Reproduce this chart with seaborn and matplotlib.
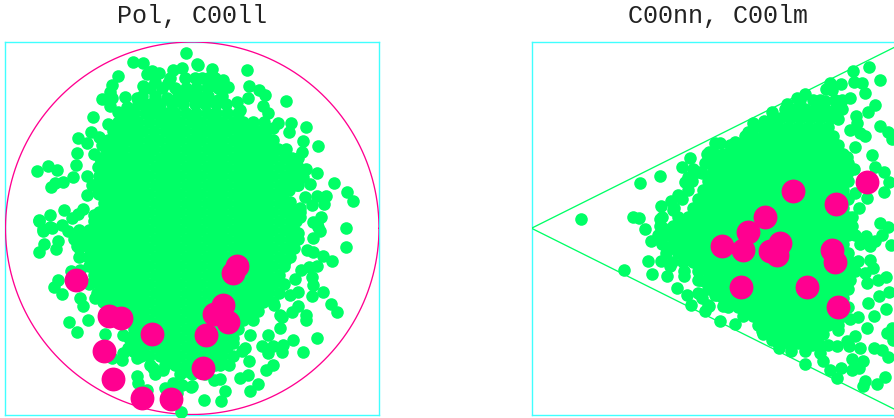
import numpy as np
import pandas as pd
import matplotlib
matplotlib.use("Agg")
import matplotlib.pyplot as plt
import seaborn as sns

TITLES = ["Pol, C00ll", "C00nn, C00lm"]

pol_hits = [(76,280),(109,316),(121,318),(152,334),(104,351),(113,379),(142,398),(171,399),
            (237,266),(233,273),(223,305),(214,314),(228,322),(206,335),(203,368)]

pol_outer = [(186,53),(133,62),(143,63),(118,76),(197,64),(147,74),(152,71),(159,73),(173,70),(182,68),
    (112,85),(143,86),(155,82),(168,83),(110,92),(102,99),(112,98),(110,106),(125,97),(137,98),(93,117),
    (108,124),(118,112),(127,107),(148,105),(157,103),(167,98),(91,132),(78,138),(87,143),(99,137),(102,145),
    (77,153),(94,154),(76,165),(48,166),(57,170),(37,171),(73,177),(63,182),(55,183),(51,187),(87,176),
    (87,195),(98,193),(92,185),(64,210),(50,215),(39,220),(83,209),(78,214),(72,218),(94,215),(62,225),
    (43,229),(52,228),(39,221),(50,227),(43,231),(58,241),(68,231),(44,244),(39,252),(56,249),(77,246),
    (79,257),(71,271),(80,270),(58,280),(54,287),(62,294),(80,298),(83,306),(95,298),(69,322),(88,320),
    (77,332),(105,334),(135,328),(123,335),(128,348),(123,353),(122,360),(112,358),(137,358),(137,376),
    (138,383),(153,368),(163,370),(172,361),(173,383),(165,388),(182,385),(191,387),(186,371),(181,412),
    (147,390),(177,393),(133,351),(198,65),(212,69),(247,70),(223,80),(228,87),(249,86),(259,90),(265,95),
    (286,101),(248,98),(263,106),(268,113),(264,122),(278,123),(291,123),(306,127),(273,128),(289,132),
    (303,141),(318,146),(302,152),(295,160),(306,169),(317,173),(297,178),(303,177),(310,184),(297,185),
    (334,183),(347,192),(353,201),(326,196),(317,196),(305,197),(324,204),(312,205),(289,190),(290,202),
    (300,208),(300,217),(321,217),(313,222),(318,227),(346,228),(230,127),(213,85),(202,78),(237,102),
    (218,100),(240,110),(212,128),(346,247),(313,238),(320,231),(317,223),(298,233),(307,250),(313,252),
    (323,256),(332,261),(317,266),(309,267),(301,270),(312,277),(313,285),(295,279),(274,282),(323,292),
    (312,296),(298,292),(290,295),(331,304),(337,312),(298,306),(292,312),(306,315),(306,320),(282,317),
    (317,338),(293,340),(303,352),(283,345),(282,352),(262,346),(268,353),(273,346),(273,365),(266,370),
    (258,384),(250,391),(248,375),(240,378),(249,361),(242,351),(229,365),(220,379),(214,380),(225,391),
    (221,401),(204,400),(192,386),(268,335),(280,328),(280,315),(274,305),(267,291),(285,261),(250,335),
    (255,288),(245,348),(233,343),(220,365)]

pol_core = [
    (78,[170,185,195,208,215]),
    (88,[150,162,175,186,196,207,218]),
    (96,[142,155,178,188,198,208,222]),
    (104,[138,150,160,172,183,195,205,216,226]),
    (113,[125,134,145,155,165,175,186,196,207,216,227,238]),
    (122,[118,128,138,149,160,170,180,191,201,212,222,233,243,253]),
    (131,[113,123,133,143,154,165,175,185,196,206,217,227,238,248,258,266]),
    (140,[108,118,128,138,149,159,170,180,191,201,212,222,233,243,253,263,273]),
    (149,[106,113,123,134,144,154,165,175,186,196,207,217,227,238,248,258,268,278,286]),
    (158,[100,109,119,129,139,149,160,170,180,191,201,212,222,233,243,253,263,273,284,292,298]),
    (167,[98,104,114,124,134,144,155,165,175,186,196,207,217,227,238,248,258,268,279,290,298]),
    (176,[99,109,119,129,139,149,160,170,180,191,201,212,222,233,243,253,263,273,284,294,300]),
    (185,[94,104,114,124,134,144,155,165,175,186,196,207,217,227,238,248,258,268,279,288,298]),
    (194,[99,109,119,129,139,149,160,170,180,191,201,212,222,233,243,253,263,273,283]),
    (203,[104,114,124,134,144,155,165,175,186,196,207,217,227,238,248,258,268,279,288]),
    (212,[99,109,119,129,139,149,160,170,180,191,201,212,222,233,243,253,263,273,284,292,300]),
    (221,[94,104,114,124,134,144,155,165,175,186,196,207,217,227,238,248,258,268,279,290,296]),
    (230,[79,89,99,109,119,129,139,149,160,170,180,191,201,212,222,233,243,253,263,273,284,294]),
    (239,[74,84,94,104,114,124,134,144,155,165,175,186,196,207,217,227,238,248,258,268,279,290,298]),
    (248,[79,89,99,109,119,129,139,149,160,170,180,191,201,212,222,233,243,253,263,273,284,294]),
    (257,[88,94,104,114,124,134,144,155,165,175,186,196,207,217,227,238,248,258,268,279,290]),
    (266,[89,99,109,119,129,139,149,160,170,180,191,201,212,222,233,243,253,263,273,284]),
    (275,[94,104,114,124,134,144,155,165,175,186,196,207,217,227,238,248,258,268,279]),
    (284,[89,99,109,119,129,139,149,160,170,180,191,201,212,222,233,243,253,263,273,284]),
    (293,[97,104,114,124,134,144,155,165,175,186,196,207,217,227,238,248,258,268,279]),
    (302,[103,109,119,129,139,149,160,170,180,191,201,212,222,233,243,253,263,273]),
    (311,[114,124,134,144,155,165,175,186,196,207,217,227,238,248,258]),
    (320,[129,139,149,160,170,180,191,201,212,222,233,243,253]),
    (329,[134,144,155,165,175,186,196,207,217,227,238]),
    (338,[129,139,149,160,170,180,191,201,212,222,233]),
    (347,[134,144,155,165,175,186,196,207,217,227]),
    (356,[141,149,160,170,180,191,201,212,222,233]),
    (365,[150,165,175,186,196,215]),
    (374,[155,180,192,205]),
]

nn_hits = [(722,246),(743,250),(748,232),(765,217),(793,191),(836,204),(867,182),(780,243),
           (770,251),(777,255),(832,250),(835,262),(741,287),(807,287),(838,307)]

nn_outer = [(581,219),(640,183),(660,176),(633,217),(639,218),(645,229),(661,206),(660,219),(671,201),(678,195),
    (682,167),(690,158),(707,154),(708,163),(693,169),(685,182),(688,177),(702,173),(673,210),(715,143),
    (651,241),(663,228),(661,261),(648,261),(624,270),(652,274),(667,276),(670,266),(684,276),(677,288),
    (687,295),(691,305),(698,293),(702,298),(705,311),(708,305),(704,281),(698,280),(715,295),(660,240),
    (672,248),(869,67),(880,80),(853,71),(862,83),(854,82),(830,83),(826,89),(841,84),(865,93),(805,94),
    (797,98),(813,100),(787,104),(772,112),(825,101),(875,105),(868,112),(856,116),(857,123),(850,130),
    (880,126),(888,132),(892,139),(865,136),(860,133),(838,119),(753,123),(764,121),(748,132),(720,143),
    (735,142),(709,152),(855,147),(872,155),(854,169),(875,167),(884,172),(889,182),(884,192),(855,193),
    (867,198),(859,208),(880,223),(888,227),(852,217),(847,157),(850,98),(832,90),(882,235),(875,241),
    (866,236),(860,244),(870,246),(891,245),(870,260),(873,268),(858,261),(865,273),(867,283),(878,280),
    (886,277),(889,292),(879,296),(868,303),(886,309),(874,316),(858,317),(850,319),(867,328),(855,336),
    (847,341),(887,333),(892,328),(893,340),(860,348),(874,348),(882,350),(888,357),(863,361),(849,346),
    (852,359),(837,346),(828,345),(852,370),(859,368),(837,378),(830,370),(841,368),(823,361),(805,364),
    (791,351),(779,348),(820,353),(865,381),(863,386),(885,377),(877,384),(720,321),(735,324),(723,306),
    (709,306),(717,295),(707,281),(805,351),(812,345),(838,330),(762,331),(772,340)]

nn_core = [
    (100,[800,820,835,842]),
    (109,[785,795,805,815,825,835,842]),
    (118,[772,780,790,800,810,820,830]),
    (127,[755,762,768,778,788,798,808,818,828]),
    (136,[745,753,763,773,783,793,803,813,823,833]),
    (145,[730,738,748,758,768,778,788,798,808,818,828,838]),
    (154,[715,723,733,743,753,763,773,783,793,803,813,823,833,843]),
    (163,[705,718,728,738,748,758,768,778,788,798,808,818,828,838,848]),
    (172,[698,713,723,733,743,753,763,773,783,793,803,813,823,833,843,848]),
    (181,[692,708,718,728,738,748,758,768,778,788,798,808,818,828,838,848]),
    (190,[688,703,713,723,733,743,753,763,773,783,793,803,813,823,833,843]),
    (199,[682,698,708,718,728,738,748,758,768,778,788,798,808,818,828,838,848]),
    (208,[674,693,703,713,723,733,743,753,763,773,783,793,803,813,823,833,843]),
    (217,[662,678,688,698,708,718,728,738,748,758,768,778,788,798,808,818,828,838,848]),
    (226,[660,673,683,693,703,713,723,733,743,753,763,773,783,793,803,813,823,833,843,852]),
    (235,[658,668,678,688,698,708,718,728,738,748,758,768,778,788,798,808,818,828,838,848,855]),
    (244,[662,673,683,693,703,713,723,733,743,753,763,773,783,793,803,813,823,833,843]),
    (253,[666,678,688,698,708,718,728,738,748,758,768,778,788,798,808,818,828,838,848]),
    (262,[672,683,693,703,713,723,733,743,753,763,773,783,793,803,813,823,833,843,850]),
    (271,[684,698,708,718,728,738,748,758,768,778,788,798,808,818,828,838,848,855]),
    (280,[700,713,723,733,743,753,763,773,783,793,803,813,823,833,843,850]),
    (289,[708,718,728,738,748,758,768,778,788,798,808,818,828,838,848]),
    (298,[723,733,743,753,763,773,783,793,803,813,823,833,843]),
    (307,[728,738,748,758,768,778,788,798,808,818,828,838,848]),
    (316,[743,753,763,773,783,793,803,813,823,833,843]),
    (325,[758,768,778,788,798,808,818,828,838]),
    (334,[763,773,783,793,803,813,823]),
    (343,[778,788,798,808,818]),
]

GREEN = "#00ff66"
PINK = "#ff0090"
CYAN = "#40ffff"
AXES_PX = [(5.5, 379.0), (531.5, 905.0)]
TOP_PX, BOTTOM_PX = 42.0, 414.5
W, H = 895, 418


def to_frame(outer, core):
    rows = [(x, y) for y, xs in core for x in xs]
    return pd.DataFrame(rows + outer, columns=["x", "y"])


def draw_points(ax, green, hits):
    sns.scatterplot(data=green, x="x", y="y", color=GREEN, s=82, linewidth=0, ax=ax,
                    clip_on=False, zorder=3)
    sns.scatterplot(data=pd.DataFrame(hits, columns=["x", "y"]), x="x", y="y", color=PINK,
                    s=295, linewidth=0, ax=ax, clip_on=False, zorder=4)


sns.set_theme(style="white")
plt.rcParams["font.family"] = ["Liberation Mono", "DejaVu Sans Mono"]

fig = plt.figure(figsize=(W / 100, H / 100), dpi=100)
axes = []
for left, right in AXES_PX:
    ax = fig.add_axes([left / W, 1 - BOTTOM_PX / H, (right - left) / W, (BOTTOM_PX - TOP_PX) / H])
    ax.set_xlim(left, right)
    ax.set_ylim(BOTTOM_PX, TOP_PX)
    axes.append(ax)

# unit circle of the polar panel
theta = np.linspace(0, 2 * np.pi, 400)
cx, cy = sum(AXES_PX[0]) / 2, (TOP_PX + BOTTOM_PX) / 2
rx, ry = (AXES_PX[0][1] - AXES_PX[0][0]) / 2, (BOTTOM_PX - TOP_PX) / 2
axes[0].plot(cx + rx * np.cos(theta), cy + ry * np.sin(theta), color=PINK, lw=0.95, zorder=2)

# wedge of the second panel
l, r = AXES_PX[1]
axes[1].plot([r, l, r], [TOP_PX, cy, BOTTOM_PX], color=GREEN, lw=0.95, zorder=2)

draw_points(axes[0], to_frame(pol_outer, pol_core), pol_hits)
draw_points(axes[1], to_frame(nn_outer, nn_core), nn_hits)

for ax, title in zip(axes, TITLES):
    ax.set_xticks([])
    ax.set_yticks([])
    ax.set_xlabel("")
    ax.set_ylabel("")
    ax.set_title(title, fontsize=18, color="#222222", pad=14)
    for spine in ax.spines.values():
        spine.set_color(CYAN)
        spine.set_linewidth(1.0)
        spine.set_zorder(1)

fig.savefig("out.png", dpi=100)
